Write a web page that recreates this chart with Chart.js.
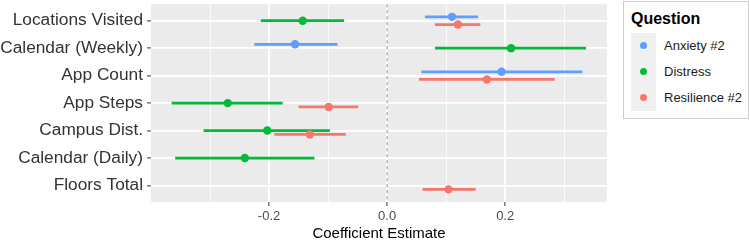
<!DOCTYPE html>
<html>
<head>
<meta charset="utf-8">
<script src="https://cdn.jsdelivr.net/npm/chart.js@4"></script>
<style>
  html, body { margin: 0; padding: 0; background: #ffffff; }
  #wrap { position: relative; width: 750px; height: 241px; overflow: hidden; font-family: "Liberation Sans", Arial, sans-serif; }
  #c { position: absolute; left: 0; top: 0; }
  #legend { position: absolute; left: 623px; top: 1px; width: 126px; height: 118px; border: 1px solid #cfcfcf; background: #fff; box-sizing: border-box; }
  #legend .title { position: absolute; left: 7px; top: 7px; font-weight: bold; font-size: 16px; color: #000; line-height: 20px; }
  #legend .key { position: absolute; left: 7px; width: 25px; height: 26px; background: #f0f0f0; }
  #legend .dot { position: absolute; left: 9px; top: 9px; width: 7px; height: 7px; border-radius: 50%; }
  #legend .lab { position: absolute; left: 40px; font-size: 13px; color: #1a1a1a; line-height: 26px; white-space: nowrap; }
</style>
</head>
<body>
<div id="wrap">
  <canvas id="c" width="750" height="241"></canvas>
  <div id="legend"></div>
</div>
<script>
// ---- data ----
const categories = ["Locations Visited", "Calendar (Weekly)", "App Count", "App Steps", "Campus Dist.", "Calendar (Daily)", "Floors Total"];
const seriesNames = ["Anxiety #2", "Distress", "Resilience #2"];
const seriesColors = ["#619CFF", "#00BA38", "#F8766D"];

const anxietyEst  = [0.110, -0.156, 0.194, null, null, null, null];
const anxietyLow  = [0.064, -0.225, 0.058, null, null, null, null];
const anxietyHigh = [0.154, -0.084, 0.331, null, null, null, null];

const distressEst  = [-0.143, 0.210, null, -0.270, -0.203, -0.241, null];
const distressLow  = [-0.214, 0.081, null, -0.365, -0.311, -0.359, null];
const distressHigh = [-0.073, 0.337, null, -0.177, -0.097, -0.123, null];

const resilEst  = [0.120, null, 0.169, -0.099, -0.131, null, 0.104];
const resilLow  = [0.081, null, 0.054, -0.150, -0.191, null, 0.060];
const resilHigh = [0.158, null, 0.284, -0.049, -0.070, null, 0.150];

const xTickValues = [-0.3, -0.2, -0.1, 0.0, 0.1, 0.2, 0.3];
const xTickLabels = ["", "-0.2", "", "0.0", "", "0.2", ""];

// ---- build datasets ----
const dodge = [-0.14, 0, 0.14];
const allSeries = [
  [anxietyEst, anxietyLow, anxietyHigh],
  [distressEst, distressLow, distressHigh],
  [resilEst, resilLow, resilHigh]
];
const datasets = [];
datasets.push({
  type: 'line', label: 'zero', data: [{x: 0, y: -0.6}, {x: 0, y: 6.6}],
  borderColor: '#8c8c8c', borderWidth: 1, borderDash: [3, 3], pointRadius: 0,
  showLine: true, order: 100
});
allSeries.forEach((s, si) => {
  const [est, lo, hi] = s;
  const segs = [];
  const pts = [];
  for (let i = 0; i < categories.length; i++) {
    if (est[i] === null) continue;
    const y = i + dodge[si];
    segs.push({x: lo[i], y: y}, {x: hi[i], y: y}, {x: null, y: null});
    pts.push({x: est[i], y: y});
  }
  datasets.push({
    type: 'line', label: seriesNames[si] + ' CI', data: segs,
    borderColor: seriesColors[si], borderWidth: 2.8, pointRadius: 0,
    showLine: true, spanGaps: false, order: 20 - si * 3
  });
  datasets.push({
    type: 'scatter', label: seriesNames[si], data: pts,
    backgroundColor: seriesColors[si], borderColor: seriesColors[si],
    pointRadius: 4.2, pointBorderWidth: 0, order: 19 - si * 3
  });
});

const panelBg = {
  id: 'panelBg',
  beforeDraw(chart) {
    const {ctx, chartArea: a} = chart;
    ctx.save();
    ctx.fillStyle = '#EBEBEB';
    ctx.fillRect(a.left, a.top, a.right - a.left, a.bottom - a.top);
    ctx.restore();
  }
};

const isMajor = v => Math.abs(Math.round(v * 10)) % 2 === 0;
const FONT = '"Liberation Sans", Arial, sans-serif';

new Chart(document.getElementById('c'), {
  type: 'scatter',
  data: { datasets },
  plugins: [panelBg],
  options: {
    responsive: false,
    devicePixelRatio: 1,
    animation: false,
    layout: { padding: { left: 0, right: 143, top: 0, bottom: 0 } },
    plugins: { legend: { display: false }, tooltip: { enabled: false } },
    scales: {
      x: {
        type: 'linear', min: -0.4, max: 0.3725,
        afterBuildTicks(scale) { scale.ticks = xTickValues.map(v => ({value: v})); },
        afterFit(scale) { scale.height = 39; scale.paddingLeft = 0; scale.paddingRight = 0; },
        border: { display: false },
        grid: {
          color: '#ffffff',
          lineWidth: ctx => (ctx.tick && isMajor(ctx.tick.value)) ? 1.8 : 0.8,
          tickColor: ctx => (ctx.tick && isMajor(ctx.tick.value)) ? '#333333' : 'rgba(0,0,0,0)',
          tickWidth: 1, tickLength: 4
        },
        ticks: {
          padding: 3, autoSkip: false, maxRotation: 0,
          color: '#4d4d4d', font: { family: FONT, size: 13 },
          callback: (v, i) => xTickLabels[i]
        },
        title: {
          display: true, text: 'Coefficient Estimate', color: '#000000',
          font: { family: FONT, size: 15, lineHeight: 1 }, padding: 0
        }
      },
      y: {
        type: 'linear', min: -0.6, max: 6.6, reverse: true,
        afterBuildTicks(scale) { scale.ticks = categories.map((c, i) => ({value: i})); },
        afterFit(scale) { scale.width = 151; scale.paddingTop = 0; scale.paddingBottom = 0; },
        border: { display: false },
        grid: { color: '#ffffff', lineWidth: 1.8, tickColor: '#333333', tickWidth: 1, tickLength: 4 },
        ticks: {
          padding: 4, autoSkip: false, color: '#333333',
          font: { family: FONT, size: 17.3 },
          callback: v => categories[v]
        }
      }
    }
  }
});

// ---- HTML legend ----
const leg = document.getElementById('legend');
const t = document.createElement('div');
t.className = 'title'; t.textContent = 'Question';
leg.appendChild(t);
seriesNames.forEach((n, i) => {
  const k = document.createElement('div');
  k.className = 'key'; k.style.top = (31 + i * 26) + 'px';
  const d = document.createElement('div');
  d.className = 'dot'; d.style.background = seriesColors[i];
  k.appendChild(d);
  leg.appendChild(k);
  const l = document.createElement('div');
  l.className = 'lab'; l.style.top = (31 + i * 26) + 'px';
  l.textContent = n;
  leg.appendChild(l);
});
</script>
</body>
</html>
